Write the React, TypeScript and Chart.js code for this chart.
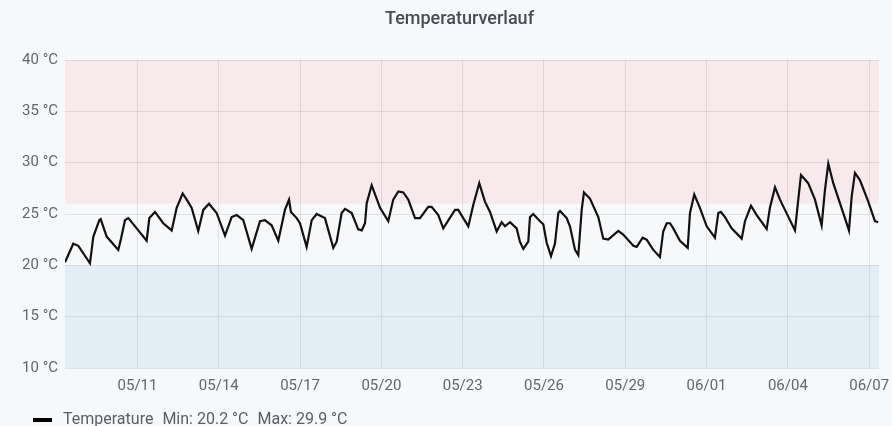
import React, { useEffect, useRef } from "react";
import { Chart, registerables } from "chart.js";

Chart.register(...registerables);

// hours since 2024-05-08 00:00
const hours = [
  7.8, 15.1, 19.6, 29.9, 32.9, 38.2, 39.4, 44.7, 55, 57.4, 60.9, 63.9, 71.3, 80.1, 82.5, 87.5,
  94.8, 102.3, 106.7, 112, 115.6, 120, 125.8, 130.3, 135.3, 142.1, 149.5, 155.4, 159.9, 165.7,
  173.1, 180.5, 184.9, 190.8, 196.7, 202.6, 206.2, 207.9, 213, 215.9, 221.8, 226.3, 230.7, 238,
  245.4, 248.4, 252.8, 255.8, 261.7, 267.5, 270.6, 273.5, 275, 279.4, 283.8, 286.8, 294.1, 298.5,
  303, 307.4, 311.8, 317.8, 322.2, 329.5, 332.5, 338.4, 342.8, 353.2, 356.1, 360.5, 365, 369.4,
  374.7, 379.7, 384.2, 390.1, 394.5, 397.5, 401.9, 407.8, 410.7, 413.7, 418.1, 419.6, 422.5,
  428.5, 431.4, 434.4, 438.2, 441.7, 444.7, 446.2, 452.1, 455, 459.5, 462.4, 465.4, 467.4, 472.7,
  480.1, 484.5, 488.9, 497.8, 502.2, 511.1, 514.1, 519.4, 522.9, 528.8, 534.7, 537.6, 540.7,
  543.6, 546.5, 552.4, 559.3, 561.3, 565.1, 570.1, 576.1, 583.4, 586.4, 588.7, 592.3, 598.2,
  607.1, 610, 615.3, 620.4, 629.2, 632.1, 636.6, 641, 654.3, 657.2, 659.6, 666, 672, 677.9, 680.8,
  683.8, 688.2, 694.1, 702.1, 704.5, 707.4, 711.8, 719.2, 725.1, 728,
];

const temps = [
  20.3, 22.1, 21.9, 20.2, 22.8, 24.4, 24.5, 22.8, 21.5, 22.6, 24.4, 24.6, 23.6, 22.4, 24.6, 25.2,
  24.1, 23.4, 25.6, 27.0, 26.4, 25.6, 23.35, 25.4, 26.0, 25.1, 22.9, 24.7, 24.9, 24.4,
  21.6, 24.3, 24.4, 23.9, 22.4, 25.4, 26.4, 25.2, 24.6, 24.1, 21.8, 24.4, 25.0, 24.6,
  21.7, 22.3, 25.1, 25.5, 25.1, 23.5, 23.4, 24.1, 26.05, 27.8, 26.5, 25.6, 24.3, 26.4,
  27.2, 27.1, 26.4, 24.6, 24.6, 25.7, 25.7, 24.9, 23.6, 25.4, 25.4, 24.6, 23.8, 25.9,
  28.0, 26.2, 25.2, 23.3, 24.2, 23.8, 24.2, 23.6, 22.3, 21.6, 22.3, 24.7, 25.0,
  24.3, 24.0, 22.2, 20.9, 22.1, 25.1, 25.3, 24.6, 23.8, 21.5, 21.0, 25.4, 27.1, 26.5,
  24.7, 22.6, 22.5, 23.35, 23.0, 21.9, 21.8, 22.7, 22.5, 21.5, 20.8, 23.3, 24.1,
  24.1, 23.6, 22.4, 21.7, 25.1, 26.9, 25.6, 23.8, 22.7, 25.1, 25.2, 24.7, 23.6,
  22.6, 24.3, 25.8, 24.9, 23.55, 25.6, 27.6, 26.4, 23.4, 26.4, 28.8, 28.0, 26.4, 23.9, 27.3,
  29.9, 28.0, 26.05, 23.4, 26.7, 29.0, 28.3, 26.2, 24.3, 24.2,
];

const xTickHours = [72, 144, 216, 288, 360, 432, 504, 576, 648, 720];
const yTicks = [10, 15, 20, 25, 30, 35, 40];
const redBand = [26, 40];
const blueBand = [10, 20];
const seriesName = "Temperature";
const title = "Temperaturverlauf";

const FONT = "Roboto, 'Noto Sans', sans-serif";

function hourLabel(h: number): string {
  const d = new Date(Date.UTC(2024, 4, 8) + h * 3600 * 1000);
  const mm = String(d.getUTCMonth() + 1).padStart(2, "0");
  const dd = String(d.getUTCDate()).padStart(2, "0");
  return `${mm}/${dd}`;
}

export default function App() {
  const ref = useRef<HTMLCanvasElement>(null);

  useEffect(() => {
    if (!ref.current) return;
    const minT = Math.min(...temps);
    const maxT = Math.max(...temps);

    const decor = {
      id: "decor",
      beforeDraw(chart: any) {
        const { ctx, chartArea, scales } = chart;
        ctx.save();
        ctx.fillStyle = "#f7f8fa";
        ctx.fillRect(0, 0, chart.width, chart.height);
        const y = scales.y;
        const l = chartArea.left;
        const w = chartArea.right - chartArea.left;
        const r1 = y.getPixelForValue(redBand[1]);
        const r0 = y.getPixelForValue(redBand[0]);
        ctx.fillStyle = "#f7e9ec";
        ctx.fillRect(l, r1, w, r0 - r1);
        const b1 = y.getPixelForValue(blueBand[1]);
        const b0 = y.getPixelForValue(blueBand[0]);
        ctx.fillStyle = "#e3eff7";
        ctx.fillRect(l, b1, w, b0 - b1);
        ctx.restore();
      },
      afterDraw(chart: any) {
        const { ctx } = chart;
        ctx.save();
        ctx.fillStyle = "#464c54";
        ctx.font = `500 18px ${FONT}`;
        ctx.textAlign = "center";
        ctx.textBaseline = "alphabetic";
        ctx.fillText(title, 459.5, 24);

        ctx.fillStyle = "#000000";
        ctx.fillRect(33, 418, 19, 4);
        ctx.font = `16px ${FONT}`;
        ctx.textAlign = "left";
        ctx.fillStyle = "#5a5e66";
        let x = 63;
        const parts = [seriesName, `Min: ${minT.toFixed(1)} °C`, `Max: ${maxT.toFixed(1)} °C`];
        for (const p of parts) {
          ctx.fillText(p, x, 424);
          x += ctx.measureText(p).width + 9;
        }
        ctx.restore();
      },
    };

    const chart = new Chart(ref.current, {
      type: "line",
      data: {
        datasets: [
          {
            label: seriesName,
            data: hours.map((h, i) => ({ x: h, y: temps[i] })),
            borderColor: "#111111",
            borderWidth: 2.2,
            pointRadius: 0,
            tension: 0,
            fill: false,
          },
        ],
      },
      options: {
        animation: false,
        responsive: false,
        maintainAspectRatio: false,
        layout: { padding: { top: 60, left: 0, right: 13, bottom: 0 } },
        plugins: { legend: { display: false }, tooltip: { enabled: false }, title: { display: false } },
        scales: {
          x: {
            type: "linear",
            min: 7.8,
            max: 728.7,
            afterBuildTicks: (s: any) => {
              s.ticks = xTickHours.map((v) => ({ value: v }));
            },
            afterFit: (s: any) => {
              s.height = 58;
              s.paddingLeft = 0;
              s.paddingRight = 0;
            },
            ticks: {
              callback: (v: any) => hourLabel(Number(v)),
              color: "#62666d",
              font: { family: FONT, size: 15 },
              padding: 9,
              maxRotation: 0,
              autoSkip: false,
            },
            grid: { color: "rgba(0,0,0,0.09)", drawTicks: false },
            border: { display: false },
          },
          y: {
            min: 10,
            max: 40,
            afterBuildTicks: (s: any) => {
              s.ticks = yTicks.map((v) => ({ value: v }));
            },
            afterFit: (s: any) => {
              s.width = 65;
              s.paddingTop = 0;
              s.paddingBottom = 0;
            },
            ticks: {
              callback: (v: any) => `${v} °C`,
              color: "#62666d",
              font: { family: FONT, size: 15 },
              padding: 7,
            },
            grid: { color: "rgba(0,0,0,0.09)", drawTicks: false },
            border: { display: false },
          },
        },
      },
      plugins: [decor],
    });
    return () => chart.destroy();
  }, []);

  return (
    <div style={{ position: "fixed", left: 0, top: 0, width: 892, height: 426 }}>
      <canvas ref={ref} width={892} height={426} style={{ display: "block", width: 892, height: 426 }} />
    </div>
  );
}
